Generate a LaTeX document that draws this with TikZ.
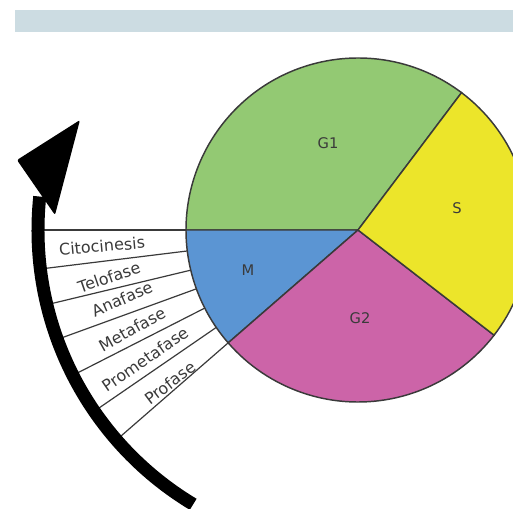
\documentclass[tikz,border=0pt]{standalone}
\usepackage{fontspec}
\setmainfont{DejaVu Sans}
\usetikzlibrary{positioning}
\definecolor{bandblue}{HTML}{CCDCE2}
\definecolor{gone}{HTML}{93C973}
\definecolor{sphase}{HTML}{ECE52A}
\definecolor{gtwo}{HTML}{CC64A8}
\definecolor{mphase}{HTML}{5B95D3}
\definecolor{edge}{HTML}{3A3A3A}

\begin{document}
\begin{tikzpicture}[x=0.75pt, y=0.75pt,
  every node/.style={font=\fontsize{11}{13}\selectfont, text=edge},
  phase/.style={font=\fontsize{12}{14}\selectfont, inner sep=0pt},
  sector/.style={draw=edge, line width=1.1pt}]
\clip (-358,-278) rectangle (155,230);
\fill[bandblue] (-343,220) rectangle (155,198);
% pie
\filldraw[sector, fill=gone] (0,0) -- (53:172) arc (53:180:172) -- cycle;
\filldraw[sector, fill=mphase] (0,0) -- (180:172) arc (180:221:172) -- cycle;
\filldraw[sector, fill=gtwo] (0,0) -- (221:172) arc (221:322.3:172) -- cycle;
\filldraw[sector, fill=sphase] (0,0) -- (322.3:172) arc (322.3:413:172) -- cycle;
\node (g1) at (-30,87) {G1};
\node (s) at (99,22) {S};
\node (m) at (-110,-40) {M};
\node (g2) at (2,-88) {G2};
% phase rules
\foreach \a in {180,187,193.5,200,207,214.5,221}
  \draw[edge, line width=0.9pt] (\a:172) -- (\a:318);
\node[phase, rotate=5] (cito) at (-256,-16) {Citocinesis};
\node[phase, rotate=19] (telo) at (-249,-47) {Telofase};
\node[phase, rotate=23.5] (ana) at (-236,-69) {Anafase};
\node[phase, rotate=29] (meta) at (-226,-99) {Metafase};
\node[phase, rotate=34.5] (prometa) at (-213,-129) {Prometafase};
\node[phase, rotate=37] (pro) at (-188,-153) {Profase};
% arrow
\draw[line width=9.75pt] (239:320) arc (239:174:320);
\fill[rounded corners=1.5pt] (-341,70) -- (-278,110) -- (-303,15) -- cycle;
\end{tikzpicture}
\end{document}
